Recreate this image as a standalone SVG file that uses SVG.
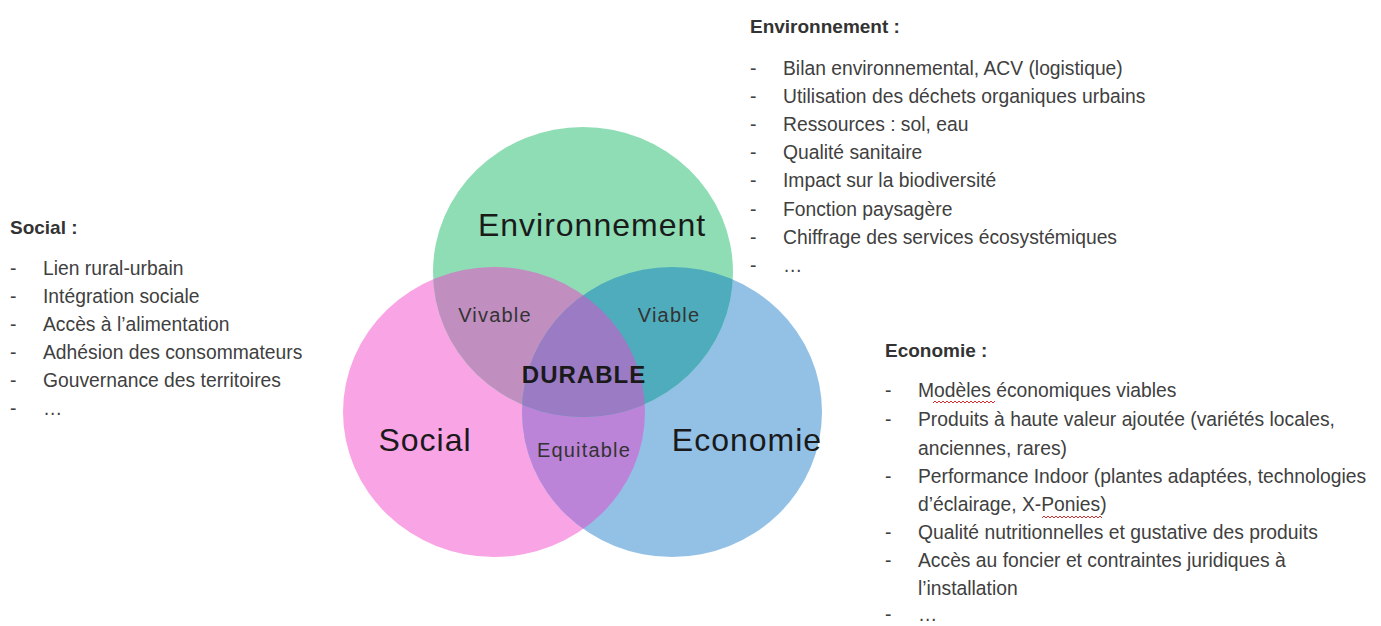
<svg xmlns="http://www.w3.org/2000/svg" width="1381" height="626" viewBox="0 0 1381 626">
<style>
.t{font-family:"Liberation Sans",Arial,sans-serif;font-size:19.3px;fill:#404040}
.h{font-family:"Liberation Sans",Arial,sans-serif;font-size:19px;font-weight:bold;fill:#333}
.big{font-family:"Liberation Sans",Arial,sans-serif;font-size:32px;letter-spacing:1px;fill:#1a1a1a;text-anchor:middle}
.mid{font-family:"Liberation Sans",Arial,sans-serif;font-size:20px;letter-spacing:1.2px;fill:#333;text-anchor:middle}
.dur{font-family:"Liberation Sans",Arial,sans-serif;font-size:24px;letter-spacing:1px;font-weight:bold;fill:#1a1a1a;text-anchor:middle}
.sq{fill:none;stroke:#d03030;stroke-width:1}
</style>
<defs>
<clipPath id="cp"><ellipse cx="494" cy="412" rx="151" ry="145"/></clipPath>
<clipPath id="cb"><ellipse cx="672" cy="412" rx="150" ry="145"/></clipPath>
</defs>
<rect width="1381" height="626" fill="#ffffff"/>
<g id="venn">
<ellipse cx="494" cy="412" rx="151" ry="145" fill="#F9A4E5"/>
<ellipse cx="672" cy="412" rx="150" ry="145" fill="#93C1E6"/>
<ellipse cx="583" cy="272" rx="150" ry="145" fill="#8FDDB5"/>
<ellipse cx="672" cy="412" rx="150" ry="145" fill="#BC84D8" clip-path="url(#cp)"/>
<ellipse cx="583" cy="272" rx="150" ry="145" fill="#C08FC0" clip-path="url(#cp)"/>
<ellipse cx="583" cy="272" rx="150" ry="145" fill="#4EACBC" clip-path="url(#cb)"/>
<g clip-path="url(#cp)"><ellipse cx="583" cy="272" rx="150" ry="145" fill="#9A7BC4" clip-path="url(#cb)"/></g>
</g>
<g id="venn-labels">
<text class="big" x="592" y="236">Environnement</text>
<text class="big" x="425" y="451">Social</text>
<text class="big" x="747" y="451">Economie</text>
<text class="mid" x="495" y="322">Vivable</text>
<text class="mid" x="669" y="322">Viable</text>
<text class="dur" x="584" y="383">DURABLE</text>
<text class="mid" x="584" y="457">Equitable</text>
</g>
<g id="env-list">
<text class="h" x="750" y="33">Environnement :</text>
<text class="t" x="750" y="75">-</text><text class="t" x="783" y="75">Bilan environnemental, ACV (logistique)</text>
<text class="t" x="750" y="103">-</text><text class="t" x="783" y="103">Utilisation des déchets organiques urbains</text>
<text class="t" x="750" y="131">-</text><text class="t" x="783" y="131">Ressources : sol, eau</text>
<text class="t" x="750" y="159">-</text><text class="t" x="783" y="159">Qualité sanitaire</text>
<text class="t" x="750" y="187">-</text><text class="t" x="783" y="187">Impact sur la biodiversité</text>
<text class="t" x="750" y="216">-</text><text class="t" x="783" y="216">Fonction paysagère</text>
<text class="t" x="750" y="244">-</text><text class="t" x="783" y="244">Chiffrage des services écosystémiques</text>
<text class="t" x="750" y="272">-</text><text class="t" x="783" y="272">…</text>
</g>
<g id="social-list">
<text class="h" x="10" y="234">Social :</text>
<text class="t" x="10" y="275">-</text><text class="t" x="43" y="275">Lien rural-urbain</text>
<text class="t" x="10" y="303">-</text><text class="t" x="43" y="303">Intégration sociale</text>
<text class="t" x="10" y="331">-</text><text class="t" x="43" y="331">Accès à l’alimentation</text>
<text class="t" x="10" y="359">-</text><text class="t" x="43" y="359">Adhésion des consommateurs</text>
<text class="t" x="10" y="387">-</text><text class="t" x="43" y="387">Gouvernance des territoires</text>
<text class="t" x="10" y="415">-</text><text class="t" x="43" y="415">…</text>
</g>
<g id="eco-list">
<text class="h" x="885" y="357">Economie :</text>
<text class="t" x="885" y="397">-</text><text class="t" x="918" y="397">Modèles économiques viables</text>
<text class="t" x="885" y="426">-</text><text class="t" x="918" y="426">Produits à haute valeur ajoutée (variétés locales,</text>
<text class="t" x="918" y="455">anciennes, rares)</text>
<text class="t" x="885" y="483">-</text><text class="t" x="918" y="483">Performance Indoor (plantes adaptées, technologies</text>
<text class="t" x="918" y="511">d’éclairage, X-Ponies)</text>
<text class="t" x="885" y="539">-</text><text class="t" x="918" y="539">Qualité nutritionnelles et gustative des produits</text>
<text class="t" x="885" y="567">-</text><text class="t" x="918" y="567">Accès au foncier et contraintes juridiques à</text>
<text class="t" x="918" y="595">l’installation</text>
<text class="t" x="885" y="621">-</text><text class="t" x="918" y="621">…</text>
<path class="sq" d="M933 403 l2 -2 l2 2 l2 -2 l2 2 l2 -2 l2 2 l2 -2 l2 2 l2 -2 l2 2 l2 -2 l2 2 l2 -2 l2 2 l2 -2 l2 2 l2 -2 l2 2 l2 -2 l2 2 l2 -2 l2 2 l2 -2 l2 2 l2 -2 l2 2 l2 -2 l2 2 l2 -2 l2 2 l2 -2"/>
<path class="sq" d="M1042 518 l2 -2 l2 2 l2 -2 l2 2 l2 -2 l2 2 l2 -2 l2 2 l2 -2 l2 2 l2 -2 l2 2 l2 -2 l2 2 l2 -2 l2 2 l2 -2 l2 2 l2 -2 l2 2 l2 -2 l2 2 l2 -2 l2 2 l2 -2 l2 2 l2 -2 l2 2 l2 -2 l2 2"/>
</g>
</svg>
